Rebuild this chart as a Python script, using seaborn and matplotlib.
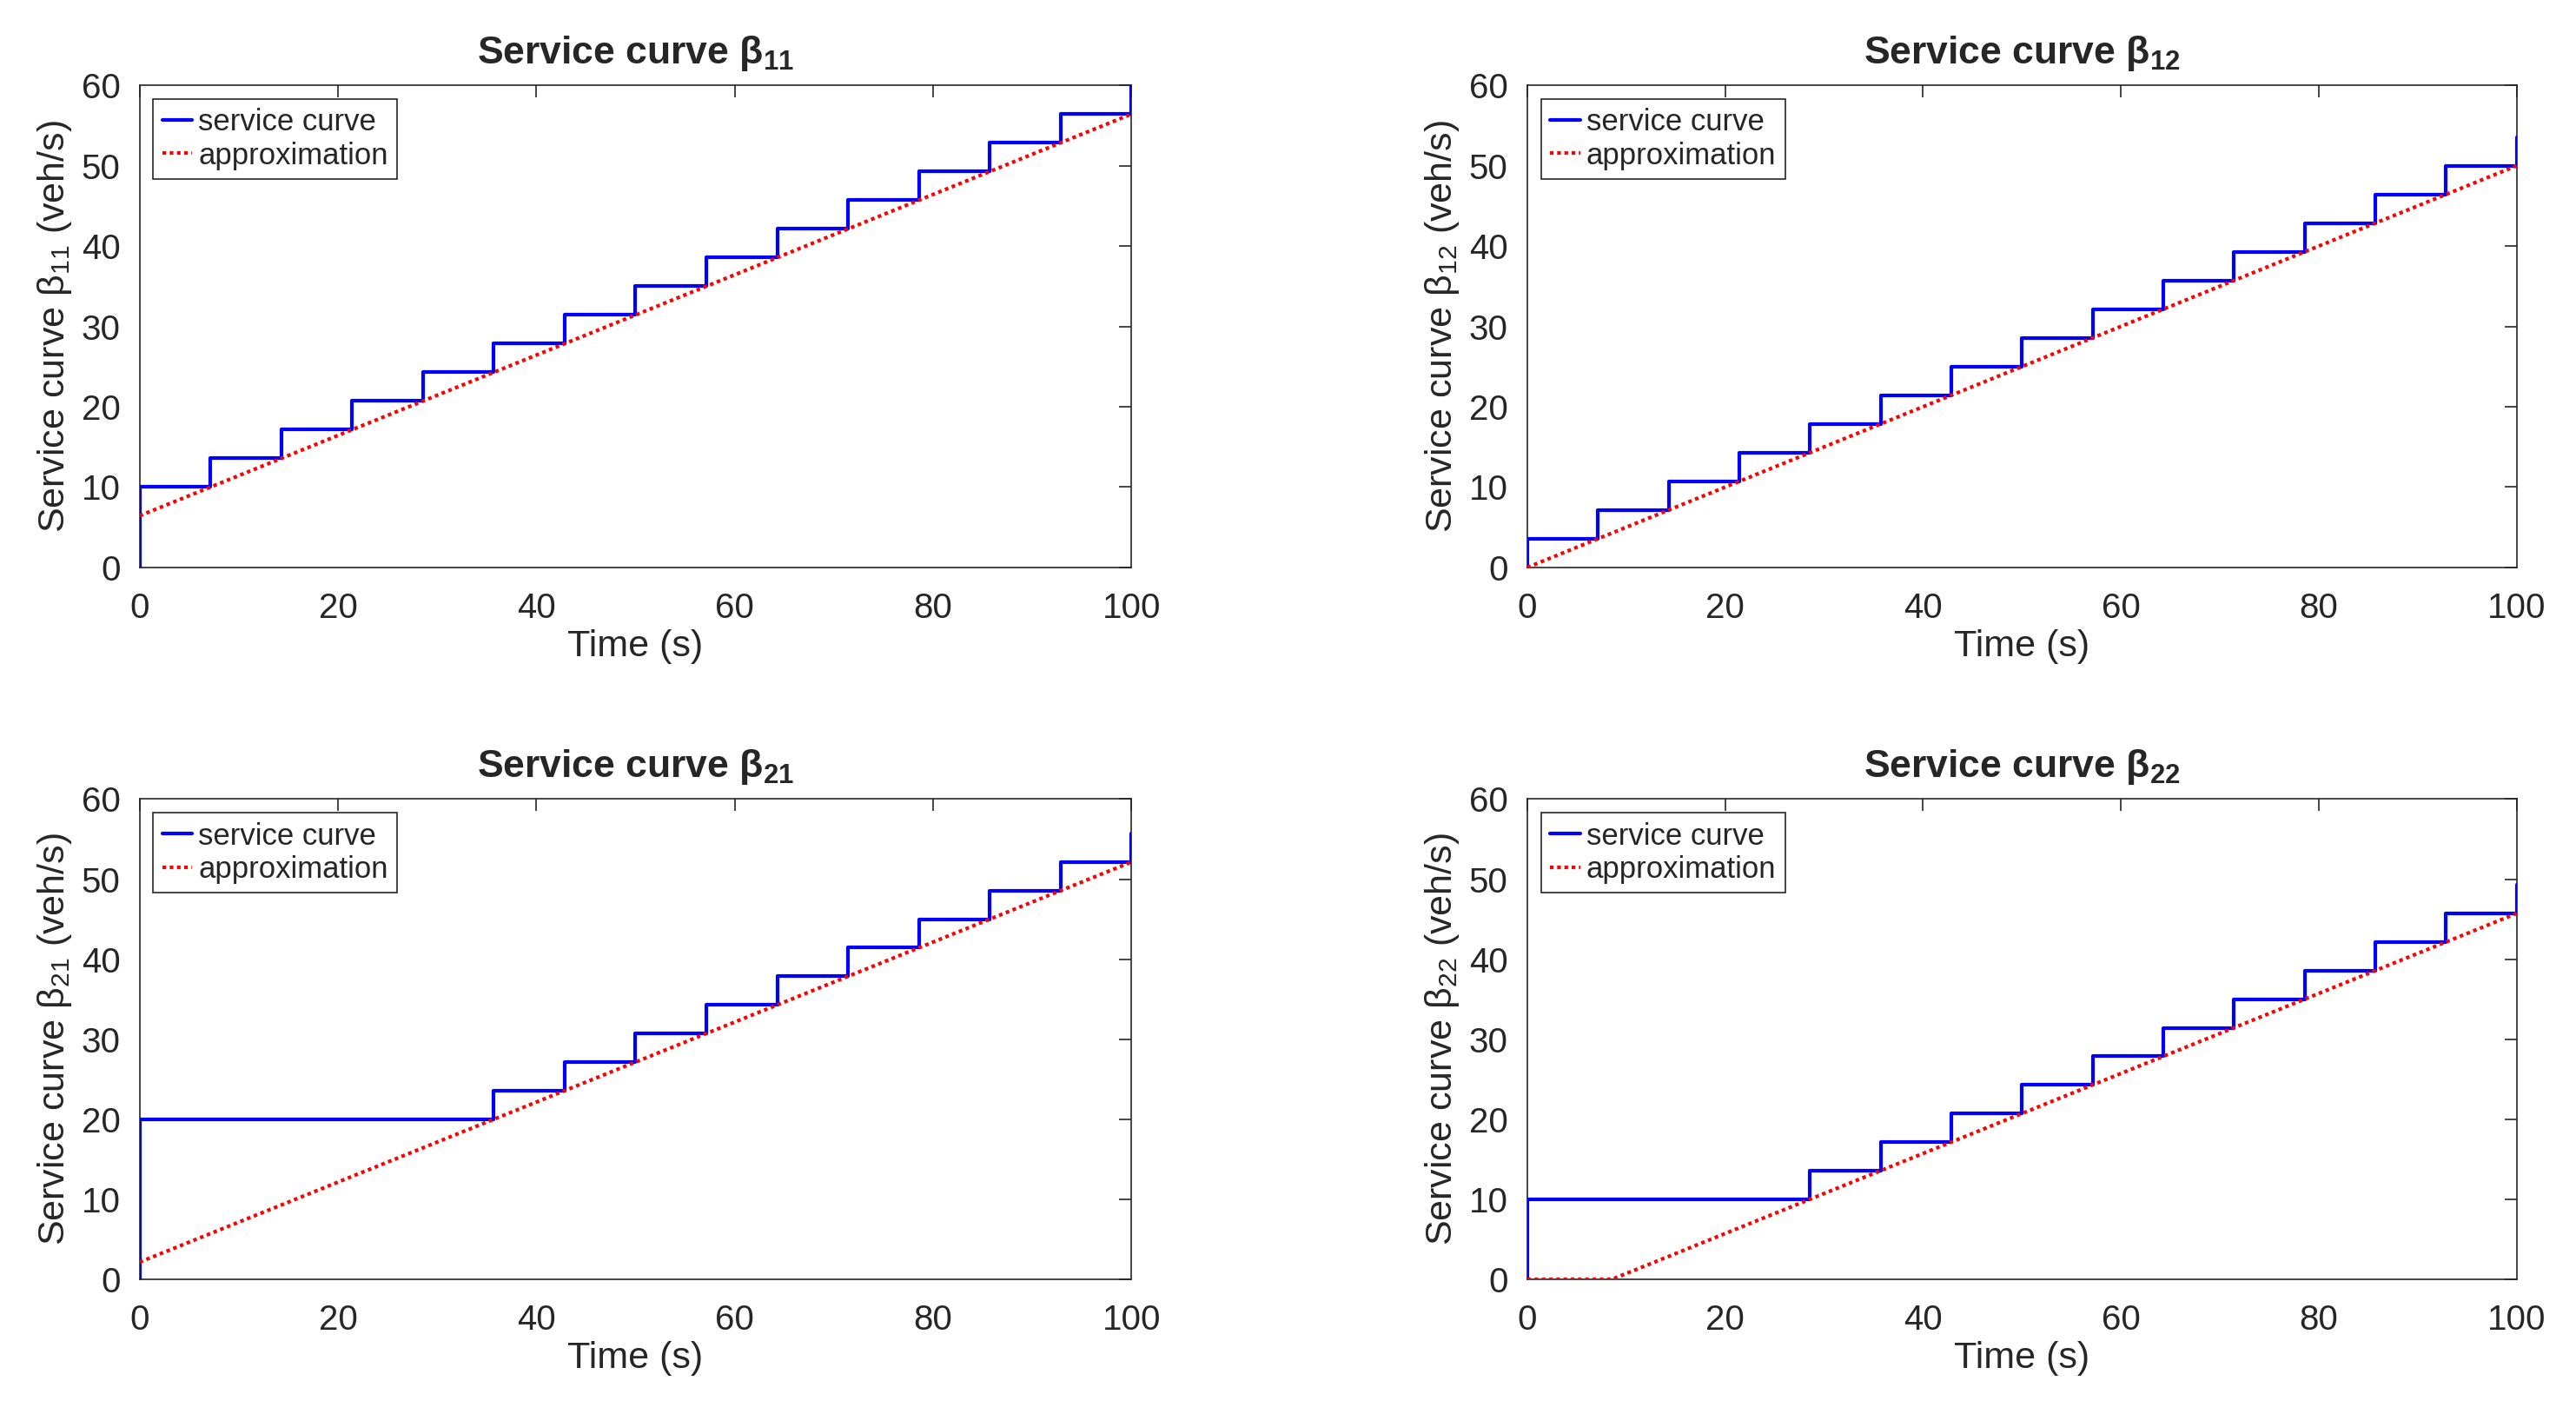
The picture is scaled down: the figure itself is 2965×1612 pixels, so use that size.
import numpy as np
import pandas as pd
import matplotlib
matplotlib.use("Agg")
import matplotlib.pyplot as plt
import seaborn as sns

# step times of the service curves (s)
t11 = [0, 0, 7.14, 14.29, 21.43, 28.57, 35.71, 42.86, 50.0, 57.14, 64.29, 71.43, 78.57, 85.71, 92.86, 100, 100]
b11 = [0, 10.0, 13.57, 17.14, 20.71, 24.29, 27.86, 31.43, 35.0, 38.57, 42.14, 45.71, 49.29, 52.86, 56.43, 56.43, 60.0]
t12 = [0, 0, 7.14, 14.29, 21.43, 28.57, 35.71, 42.86, 50.0, 57.14, 64.29, 71.43, 78.57, 85.71, 92.86, 100, 100]
b12 = [0, 3.57, 7.14, 10.71, 14.29, 17.86, 21.43, 25.0, 28.57, 32.14, 35.71, 39.29, 42.86, 46.43, 50.0, 50.0, 53.57]
t21 = [0, 0, 35.71, 42.86, 50.0, 57.14, 64.29, 71.43, 78.57, 85.71, 92.86, 100, 100]
b21 = [0, 20.0, 23.57, 27.14, 30.71, 34.29, 37.86, 41.43, 45.0, 48.57, 52.14, 52.14, 55.71]
t22 = [0, 0, 28.57, 35.71, 42.86, 50.0, 57.14, 64.29, 71.43, 78.57, 85.71, 92.86, 100, 100]
b22 = [0, 10.0, 13.57, 17.14, 20.71, 24.29, 27.86, 31.43, 35.0, 38.57, 42.14, 45.71, 45.71, 49.29]

# linear approximations (rate-latency)
a11_t = [0, 100]
a11_v = [6.43, 56.43]
a12_t = [0, 100]
a12_v = [0.0, 50.0]
a21_t = [0, 100]
a21_v = [2.14, 52.14]
a22_t = [0, 8.57, 100]
a22_v = [0.0, 0.0, 45.71]

panels = [
    ("11", t11, b11, a11_t, a11_v),
    ("12", t12, b12, a12_t, a12_v),
    ("21", t21, b21, a21_t, a21_v),
    ("22", t22, b22, a22_t, a22_v),
]

sns.set_style("white")
plt.rcParams['font.family'] = ['Liberation Sans', 'DejaVu Sans']
plt.rcParams['mathtext.fontset'] = 'custom'
plt.rcParams['mathtext.rm'] = 'Liberation Sans'
plt.rcParams['mathtext.bf'] = 'Liberation Sans:bold'

fig = plt.figure(figsize=(29.65, 16.12), dpi=100)
positions = [
    [0.0542, 0.595, 0.385, 0.344],
    [0.5929, 0.595, 0.384, 0.344],
    [0.0542, 0.0869, 0.385, 0.3427],
    [0.5929, 0.0869, 0.384, 0.3427],
]

for (idx, t, b, at, av), pos in zip(panels, positions):
    ax = fig.add_axes(pos)
    sc = pd.DataFrame({"t": t, "v": b})
    ap = pd.DataFrame({"t": at, "v": av})
    sns.lineplot(data=sc, x="t", y="v", ax=ax, color="#0000FF", lw=3.0,
                 drawstyle="steps-post", estimator=None, sort=False,
                 label="service curve", zorder=3)
    sns.lineplot(data=ap, x="t", y="v", ax=ax, color="#FF0000", lw=3.0,
                 linestyle=(0, (1, 1)), estimator=None, sort=False,
                 label="approximation", zorder=3)
    ax.set_xlim(0, 100)
    ax.set_ylim(0, 60)
    ax.set_xticks(range(0, 101, 20))
    ax.set_yticks(range(0, 61, 10))
    ax.tick_params(direction="in", top=True, right=True, length=10, width=1.2,
                   labelsize=29, colors="0.15", labelcolor="0.15", pad=16)
    ax.tick_params(axis="x", pad=20)
    for sp in ax.spines.values():
        sp.set_color("0.15")
        sp.set_linewidth(1.2)
    ax.set_xlabel("Time (s)", fontsize=31, color="0.15", labelpad=4)
    ax.set_ylabel("Service curve β$_{%s}$ (veh/s)" % idx, fontsize=31, color="0.15", labelpad=6)
    ax.set_title("Service curve β$_{\\mathbf{%s}}$" % idx, fontsize=32, fontweight="bold", pad=18)
    leg = ax.legend(loc="upper left", fontsize=25, frameon=True, fancybox=False,
                    framealpha=1, edgecolor="0.15", handlelength=1.0,
                    handletextpad=0.2, borderpad=0.3, labelspacing=0.15,
                    borderaxespad=0.45)
    leg.set_zorder(5)
    leg.get_frame().set_linewidth(1.2)

fig.savefig("out.png", dpi=100)
